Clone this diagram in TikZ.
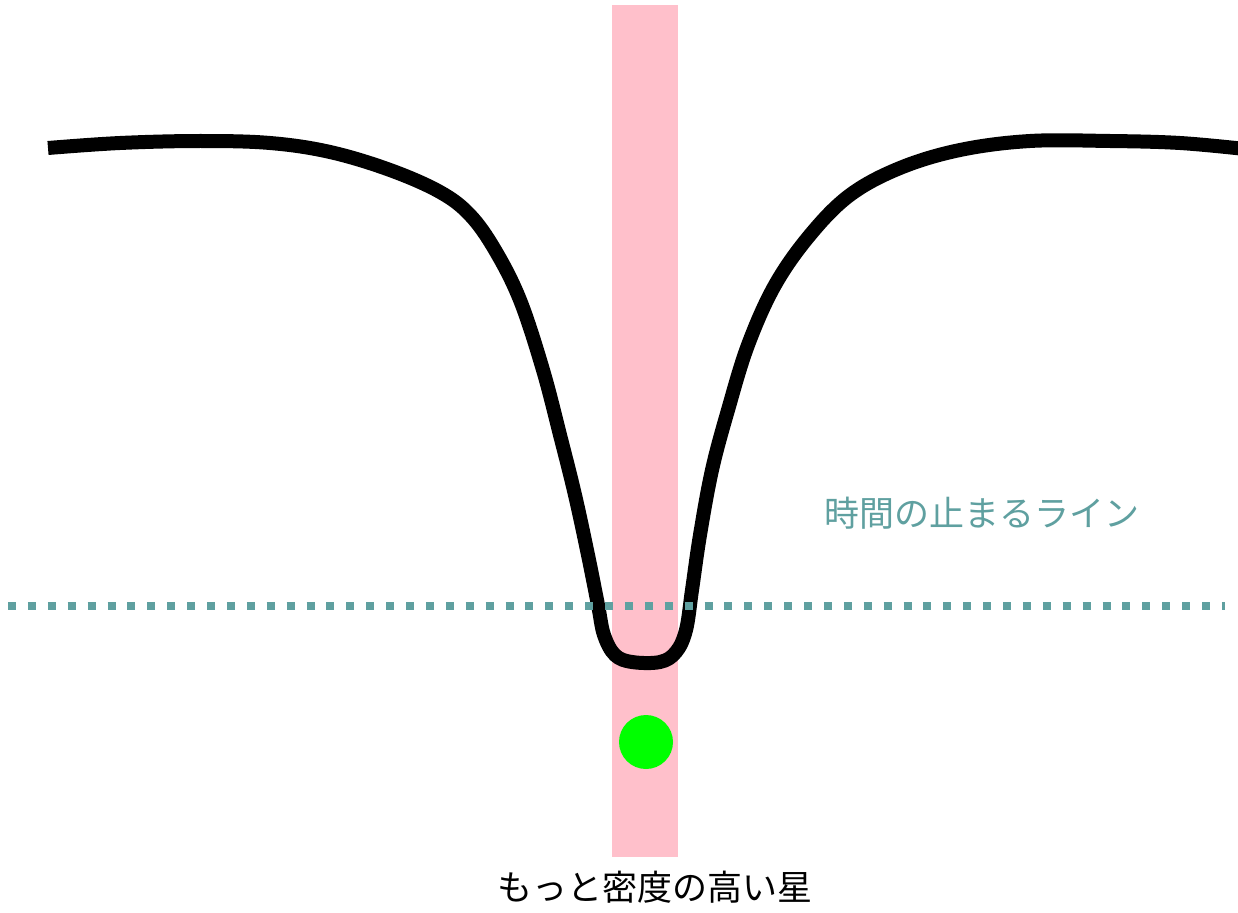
\documentclass[tikz,border=0pt]{standalone}
\usepackage{fontspec}
\newfontfamily\cjk{Noto Sans CJK JP}
\definecolor{teal1}{RGB}{95,160,160}
\definecolor{pinkbar}{RGB}{255,192,203}
\definecolor{green1}{RGB}{0,255,0}
\tikzset{
  curveline/.style={line width=14pt, black, line join=round},
  stopline/.style={teal1, line width=8pt, dash pattern=on 8pt off 11.9pt},
  lbl/.style={font=\cjk\fontsize{35}{35}\selectfont, inner sep=0pt}
}
\begin{document}
\begin{tikzpicture}[x=1pt,y=-1pt]
\useasboundingbox (0,0) rectangle (1238,912);
\fill[white] (0,0) rectangle (1238,912);
\fill[pinkbar] (612,5) rectangle (678,857);
\draw[curveline] plot[smooth, tension=0.6] coordinates {
(48,148) (120,143) (200,141) (270,143) (330,152) (390,170) (440,192) (470,215) (495,250) (520,300) (543,370) (560,435) (575,495) (588,555) (598,605) (604,635) (615,655) (632,662) (660,662) (676,652) (686,630) (692,590) (700,535) (712,470) (728,410) (748,345) (775,285) (810,235) (850,195) (900,168) (960,150) (1030,141) (1110,141) (1180,143) (1245,149)};
\coordinate (dl) at (8,606);
\coordinate (dr) at (1225,606);
\draw[stopline] (dl) -- (dr);
\node[circle, fill=green1, minimum size=54pt, inner sep=0pt] (star) at (646,742) {};
\node[lbl, text=teal1] (stoplabel) at (982,513) {時間の止まるライン};
\node[lbl, text=black] (starlabel) at (655,887) {もっと密度の高い星};
\end{tikzpicture}
\end{document}
